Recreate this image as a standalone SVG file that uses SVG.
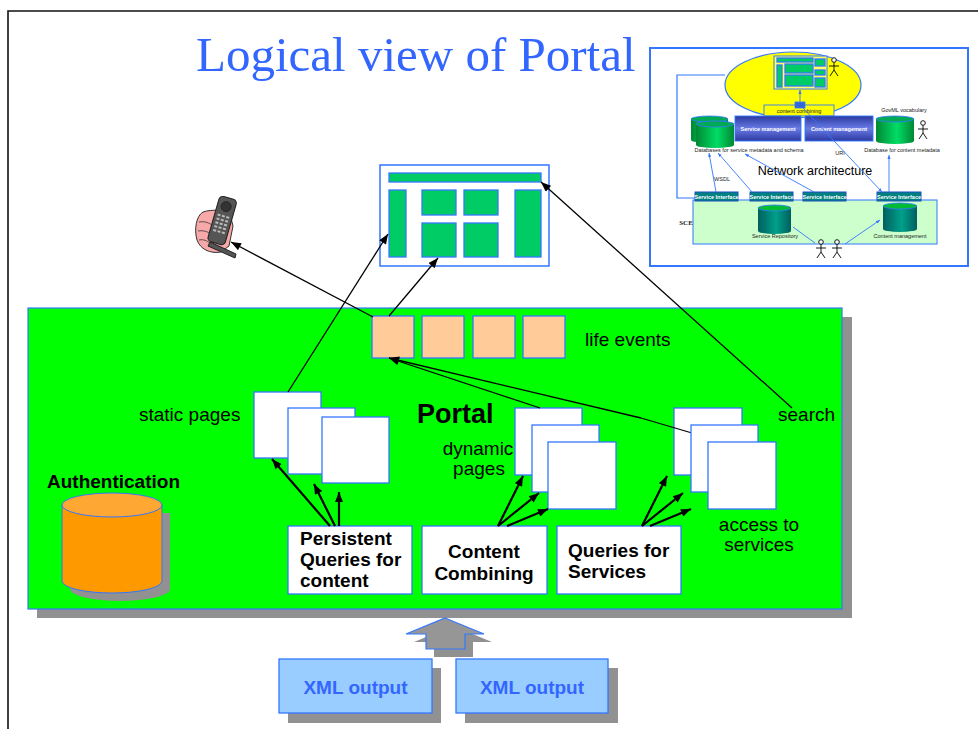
<svg xmlns="http://www.w3.org/2000/svg" width="978" height="729" viewBox="0 0 978 729">
  <style>
    .lbl { font-family: "Liberation Sans", Arial, sans-serif; font-size: 19px; fill: #000; }
    .bold { font-family: "Liberation Sans", Arial, sans-serif; font-size: 19px; font-weight: bold; fill: #000; }
    .tiny { font-family: "Liberation Sans", Arial, sans-serif; font-size: 5.5px; fill: #222; }
    .tinyw { font-family: "Liberation Sans", Arial, sans-serif; font-size: 5.5px; font-weight: bold; fill: #fff; }
    .page { fill: #fff; stroke: #3377ff; stroke-width: 1.3; }
    .cell { fill: #00cc66; stroke: #3377ff; stroke-width: 1.3; }
    .life { fill: #ffcc99; stroke: #3377ff; stroke-width: 1.3; }
    .shadow { fill: #919191; }
    .thin { stroke: #000; stroke-width: 1.3; fill: none; }
    .thick { stroke: #000; stroke-width: 2.2; fill: none; }
    .bl { stroke: #3377ff; stroke-width: 0.9; fill: none; }
    .stick { stroke: #000; stroke-width: 0.9; fill: none; }
  </style>
  <defs>
    <marker id="ah" viewBox="0 0 10 8" refX="10" refY="4" markerWidth="11" markerHeight="8" orient="auto" markerUnits="userSpaceOnUse">
      <path d="M0,0 L10,4 L0,8 z" fill="#000"/>
    </marker>
    <marker id="ahb" viewBox="0 0 10 8" refX="10" refY="4" markerWidth="4" markerHeight="3.5" orient="auto" markerUnits="userSpaceOnUse">
      <path d="M0,0 L10,4 L0,8 z" fill="#3377ff"/>
    </marker>
    <linearGradient id="gcyl" x1="0" y1="0" x2="1" y2="0">
      <stop offset="0" stop-color="#008833"/>
      <stop offset="0.55" stop-color="#00dd66"/>
      <stop offset="1" stop-color="#008833"/>
    </linearGradient>
    <linearGradient id="tcyl" x1="0" y1="0" x2="1" y2="0">
      <stop offset="0" stop-color="#005f5f"/>
      <stop offset="0.55" stop-color="#00a08a"/>
      <stop offset="1" stop-color="#005f5f"/>
    </linearGradient>
    <linearGradient id="mgmt" x1="0" y1="0" x2="0" y2="1">
      <stop offset="0" stop-color="#2b3aa0"/>
      <stop offset="0.5" stop-color="#6a7ae6"/>
      <stop offset="1" stop-color="#2b3aa0"/>
    </linearGradient>
    <g id="man">
      <circle cx="0" cy="-7" r="2.3" fill="#fff" stroke="#000" stroke-width="0.9"/>
      <path class="stick" d="M0,-4.7 V3 M-5,-1 H5 M0,3 L-4,9 M0,3 L4,9"/>
    </g>
  </defs>

  <!-- page frame -->
  <path d="M8,729 V11 H978" fill="none" stroke="#111" stroke-width="1.6"/>

  <!-- title -->
  <text x="196" y="71" font-family="Liberation Serif, Times New Roman, serif" font-size="49" fill="#3366ff">Logical view of Portal</text>

  <!-- network architecture inset -->
  <g id="network-inset">
    <rect x="650" y="48" width="318" height="218" fill="#fff" stroke="#3377ff" stroke-width="2"/>
    <path d="M725,75 H677 V198 H695" fill="none" stroke="#3377ff" stroke-width="1.2"/>
    <ellipse cx="793" cy="85" rx="68" ry="33" fill="#ffff00" stroke="#3377ff" stroke-width="1.2"/>
    <!-- small screen -->
    <rect x="774" y="56" width="53" height="33" fill="#ffff66" stroke="#3377ff" stroke-width="1"/>
    <rect x="777" y="58" width="36" height="4" class="cell" stroke-width="0.7"/>
    <rect x="777" y="65" width="5" height="22" class="cell" stroke-width="0.7"/>
    <rect x="785" y="64" width="28" height="9" class="cell" stroke-width="0.7"/>
    <rect x="785" y="75" width="28" height="11" class="cell" stroke-width="0.7"/>
    <rect x="815" y="59" width="10" height="7" class="cell" stroke-width="0.7"/>
    <rect x="815" y="70" width="10" height="5" class="cell" stroke-width="0.7"/>
    <rect x="815" y="78" width="10" height="9" class="cell" stroke-width="0.7"/>
    <use href="#man" x="834" y="67"/>
    <rect x="764" y="105" width="70" height="11" fill="#ffff00" stroke="#3377ff" stroke-width="0.9"/>
    <text class="tiny" x="799" y="113" text-anchor="middle">content combining</text>
    <line class="bl" x1="800" y1="103" x2="800" y2="90" marker-end="url(#ahb)"/>
    <rect x="795" y="102" width="10" height="6" fill="#3366dd" stroke="#3377ff" stroke-width="0.8"/>
    <rect x="735" y="116" width="66" height="25" fill="url(#mgmt)" stroke="#3377ff" stroke-width="0.9"/>
    <text class="tinyw" x="768" y="131" text-anchor="middle">Service management</text>
    <rect x="805" y="116" width="68" height="25" fill="url(#mgmt)" stroke="#3377ff" stroke-width="0.9"/>
    <text class="tinyw" x="839" y="131" text-anchor="middle">Content management</text>
    <!-- service metadata databases -->
    <path d="M691,119 V140 A18.5,3 0 0 0 728,140 V119 z" fill="url(#gcyl)"/>
    <ellipse cx="709.5" cy="119" rx="18.5" ry="3" fill="#00aa55" stroke="#3377ff" stroke-width="0.8"/>
    <path d="M696,124 V145 A19,3 0 0 0 734,145 V124 z" fill="url(#gcyl)"/>
    <ellipse cx="715" cy="124" rx="19" ry="3" fill="#00aa55" stroke="#3377ff" stroke-width="0.8"/>
    <text class="tiny" x="749" y="152" text-anchor="middle">Databases for service metadata and schema</text>
    <!-- content metadata database -->
    <text class="tiny" x="904" y="112" text-anchor="middle">GovML vocabulary</text>
    <path d="M876,119 V141 A19,3 0 0 0 914,141 V119 z" fill="url(#gcyl)"/>
    <ellipse cx="895" cy="119" rx="19" ry="3" fill="#00aa55" stroke="#3377ff" stroke-width="0.8"/>
    <use href="#man" x="923" y="130"/>
    <text class="tiny" x="902" y="152" text-anchor="middle">Database for content metadata</text>
    <text class="tiny" x="840" y="155" text-anchor="middle">URI</text>
    <text x="815" y="175" text-anchor="middle" font-family="Liberation Sans, Arial, sans-serif" font-size="12.5" fill="#000">Network architecture</text>
    <text class="tiny" x="722" y="181" text-anchor="middle">WSDL</text>
    <!-- SCE -->
    <rect x="693" y="200" width="244" height="44" fill="#ccffcc" stroke="#3377ff" stroke-width="1"/>
    <text x="686" y="225" text-anchor="middle" font-family="Liberation Serif, serif" font-size="7" font-weight="bold" fill="#222">SCE</text>
    <rect x="695" y="192" width="43" height="9" fill="#008080" stroke="#1f4fbf" stroke-width="1"/>
    <rect x="750" y="192" width="43" height="9" fill="#008080" stroke="#1f4fbf" stroke-width="1"/>
    <rect x="803" y="192" width="43" height="9" fill="#008080" stroke="#1f4fbf" stroke-width="1"/>
    <rect x="877" y="192" width="44" height="9" fill="#008080" stroke="#1f4fbf" stroke-width="1"/>
    <text class="tinyw" x="716.5" y="199" text-anchor="middle" font-size="4.6">Service Interface</text>
    <text class="tinyw" x="771.5" y="199" text-anchor="middle" font-size="4.6">Service Interface</text>
    <text class="tinyw" x="824.5" y="199" text-anchor="middle" font-size="4.6">Service Interface</text>
    <text class="tinyw" x="899" y="199" text-anchor="middle" font-size="4.6">Service Interface</text>
    <path d="M758,208 V231 A16.5,3 0 0 0 791,231 V208 z" fill="url(#tcyl)"/>
    <ellipse cx="774.5" cy="208" rx="16.5" ry="3" fill="#00bb33" stroke="#3377ff" stroke-width="0.8"/>
    <text class="tiny" x="775" y="238" text-anchor="middle">Service Repository</text>
    <path d="M883,206 V229 A17,3 0 0 0 917,229 V206 z" fill="url(#tcyl)"/>
    <ellipse cx="900" cy="206" rx="17" ry="3" fill="#00bb33" stroke="#3377ff" stroke-width="0.8"/>
    <text class="tiny" x="900" y="238" text-anchor="middle">Content management</text>
    <use href="#man" x="821" y="249"/>
    <use href="#man" x="837" y="249"/>
    <!-- inset connectors -->
    <line class="bl" x1="716" y1="192" x2="709" y2="153" marker-end="url(#ahb)"/>
    <line class="bl" x1="752" y1="192" x2="718" y2="153" marker-end="url(#ahb)"/>
    <line class="bl" x1="814" y1="192" x2="745" y2="154" marker-end="url(#ahb)"/>
    <line class="bl" x1="803" y1="108" x2="882" y2="192" marker-end="url(#ahb)"/>
    <line class="bl" x1="889" y1="192" x2="889" y2="155" marker-end="url(#ahb)"/>
    <line class="bl" x1="845" y1="244" x2="880" y2="220" marker-end="url(#ahb)"/>
    <line class="bl" x1="793" y1="227" x2="815" y2="243"/>
  </g>

  <!-- mobile phone -->
  <g id="phone">
    <path d="M203,212 C196,216 194,230 197,240 C200,249 210,254 221,252 L229,246 L233,226 L230,214 C224,210 212,209 203,212 z" fill="#f7a8a8" stroke="#333" stroke-width="1"/>
    <path d="M199,222 C205,221 209,223 212,225 M198,231 C204,230 208,232 211,234 M199,240 C204,239 207,241 210,243" fill="none" stroke="#333" stroke-width="0.8"/>
    <g transform="translate(222,221) rotate(16)">
      <rect x="-9" y="-24" width="18" height="47" rx="4" fill="#555" stroke="#222" stroke-width="1"/>
      <circle cx="0" cy="-15" r="5" fill="#333" stroke="#222" stroke-width="0.8"/>
      <g fill="#bbb">
        <rect x="-6" y="-6" width="3" height="2"/><rect x="-1.5" y="-6" width="3" height="2"/><rect x="3" y="-6" width="3" height="2"/>
        <rect x="-6" y="-2" width="3" height="2"/><rect x="-1.5" y="-2" width="3" height="2"/><rect x="3" y="-2" width="3" height="2"/>
        <rect x="-6" y="2" width="3" height="2"/><rect x="-1.5" y="2" width="3" height="2"/><rect x="3" y="2" width="3" height="2"/>
        <rect x="-6" y="6" width="3" height="2"/><rect x="-1.5" y="6" width="3" height="2"/><rect x="3" y="6" width="3" height="2"/>
        <rect x="-6" y="10" width="3" height="2"/><rect x="-1.5" y="10" width="3" height="2"/><rect x="3" y="10" width="3" height="2"/>
      </g>
    </g>
    <path d="M210,242 L236,254 L235,258 L208,246 z" fill="#555" stroke="#222" stroke-width="1"/>
  </g>

  <!-- web page layout -->
  <g id="web-page">
    <rect x="380" y="165" width="169" height="101" fill="#fff" stroke="#3377ff" stroke-width="1.5"/>
    <rect class="cell" x="389" y="173" width="152" height="9"/>
    <rect class="cell" x="389" y="190" width="17" height="67"/>
    <rect class="cell" x="422" y="190" width="34" height="25"/>
    <rect class="cell" x="464" y="190" width="34" height="25"/>
    <rect class="cell" x="422" y="223" width="34" height="34"/>
    <rect class="cell" x="464" y="223" width="34" height="34"/>
    <rect class="cell" x="515" y="190" width="26" height="67"/>
  </g>

  <!-- portal -->
  <g id="portal">
    <rect class="shadow" x="37" y="317" width="815" height="301"/>
    <rect x="28" y="308" width="814" height="301" fill="#00ff00" stroke="#3377ff" stroke-width="1.2"/>
    <text x="417" y="423" font-family="Liberation Sans, Arial, sans-serif" font-size="27" font-weight="bold">Portal</text>
  </g>

  <g id="life-events">
    <rect class="life" x="372" y="316" width="42" height="42"/>
    <rect class="life" x="422" y="316" width="42" height="42"/>
    <rect class="life" x="473" y="316" width="42" height="42"/>
    <rect class="life" x="523" y="316" width="42" height="42"/>
    <text class="lbl" x="585" y="346">life events</text>
  </g>

  <g id="authentication">
    <text class="bold" x="47" y="488">Authentication</text>
    <path class="shadow" d="M70,513 V589 A50,12 0 0 0 170,589 V513 z"/>
    <path d="M62,505 V581 A50,12 0 0 0 162,581 V505 z" fill="#ff9900" stroke="#3377ff" stroke-width="1"/>
    <ellipse cx="112" cy="505" rx="50" ry="12" fill="#ffa733" stroke="#3377ff" stroke-width="1"/>
  </g>

  <g id="static-pages">
    <text class="lbl" x="139" y="421">static pages</text>
    <rect class="page" x="254" y="392" width="67" height="66"/>
    <rect class="page" x="288" y="408" width="67" height="66"/>
    <rect class="page" x="322" y="417" width="67" height="66"/>
  </g>

  <g id="dynamic-pages">
    <text class="lbl" x="478" y="455" text-anchor="middle">dynamic</text>
    <text class="lbl" x="479" y="475" text-anchor="middle">pages</text>
    <rect class="page" x="515" y="408" width="67" height="67"/>
    <rect class="page" x="532" y="425" width="67" height="67"/>
    <rect class="page" x="548" y="442" width="68" height="67"/>
  </g>

  <g id="access-to-services">
    <rect class="page" x="674" y="408" width="68" height="67"/>
    <line class="thin" x1="641" y1="418" x2="692" y2="433"/>
    <rect class="page" x="691" y="425" width="67" height="67"/>
    <rect class="page" x="708" y="442" width="68" height="67"/>
    <text class="lbl" x="759" y="531" text-anchor="middle">access to</text>
    <text class="lbl" x="759" y="551" text-anchor="middle">services</text>
    <text class="lbl" x="778" y="421">search</text>
  </g>

  <g id="persistent-queries">
    <rect class="page" x="288" y="526" width="124" height="68"/>
    <text class="bold" x="300" y="545">Persistent</text>
    <text class="bold" x="300" y="566">Queries for</text>
    <text class="bold" x="300" y="587">content</text>
  </g>
  <g id="content-combining">
    <rect class="page" x="422" y="526" width="125" height="68"/>
    <text class="bold" x="484" y="558" text-anchor="middle">Content</text>
    <text class="bold" x="484" y="580" text-anchor="middle">Combining</text>
  </g>
  <g id="queries-for-services">
    <rect class="page" x="557" y="526" width="124" height="68"/>
    <text class="bold" x="568" y="557">Queries for</text>
    <text class="bold" x="568" y="578">Services</text>
  </g>

  <!-- connectors -->
  <g id="connectors">
    <line class="thin" x1="373" y1="317" x2="231" y2="242" marker-end="url(#ah)"/>
    <line class="thin" x1="288" y1="392" x2="388" y2="234" marker-end="url(#ah)"/>
    <line class="thin" x1="389" y1="316" x2="438" y2="258" marker-end="url(#ah)"/>
    <line class="thin" x1="792" y1="408" x2="541" y2="182" marker-end="url(#ah)"/>
    <line class="thin" x1="540" y1="408" x2="389" y2="358" marker-end="url(#ah)"/>
    <line class="thin" x1="641" y1="418" x2="389" y2="358" marker-end="url(#ah)"/>
    <line class="thick" x1="330" y1="526" x2="272" y2="459" marker-end="url(#ah)"/>
    <line class="thick" x1="335" y1="526" x2="314" y2="484" marker-end="url(#ah)"/>
    <line class="thick" x1="339" y1="526" x2="339" y2="492" marker-end="url(#ah)"/>
    <line class="thick" x1="498" y1="526" x2="523" y2="476" marker-end="url(#ah)"/>
    <line class="thick" x1="498" y1="526" x2="539" y2="493" marker-end="url(#ah)"/>
    <line class="thick" x1="507" y1="526" x2="548" y2="509" marker-end="url(#ah)"/>
    <line class="thick" x1="642" y1="526" x2="667" y2="476" marker-end="url(#ah)"/>
    <line class="thick" x1="642" y1="526" x2="683" y2="493" marker-end="url(#ah)"/>
    <line class="thick" x1="650" y1="526" x2="691" y2="509" marker-end="url(#ah)"/>
    <!-- block arrow from XML outputs into the portal -->
    <path class="shadow" d="M453,626 L492,642 L473,642 L473,657 L434,657 L434,642 L414,642 z"/>
    <path d="M445,618 L484,634 L465,634 L465,649 L426,649 L426,634 L406,634 z" fill="#969696" stroke="#3377ff" stroke-width="1.2"/>
  </g>

  <g id="xml-output-1">
    <rect class="shadow" x="288" y="668" width="153" height="55"/>
    <rect x="279" y="659" width="153" height="54" fill="#99ccff" stroke="#3377ff" stroke-width="1.3"/>
    <text class="bold" x="355.5" y="694" text-anchor="middle" fill="#3366ff" style="fill:#3366ff">XML output</text>
  </g>
  <g id="xml-output-2">
    <rect class="shadow" x="465" y="668" width="153" height="55"/>
    <rect x="456" y="659" width="152" height="54" fill="#99ccff" stroke="#3377ff" stroke-width="1.3"/>
    <text class="bold" x="532" y="694" text-anchor="middle" style="fill:#3366ff">XML output</text>
  </g>
</svg>
